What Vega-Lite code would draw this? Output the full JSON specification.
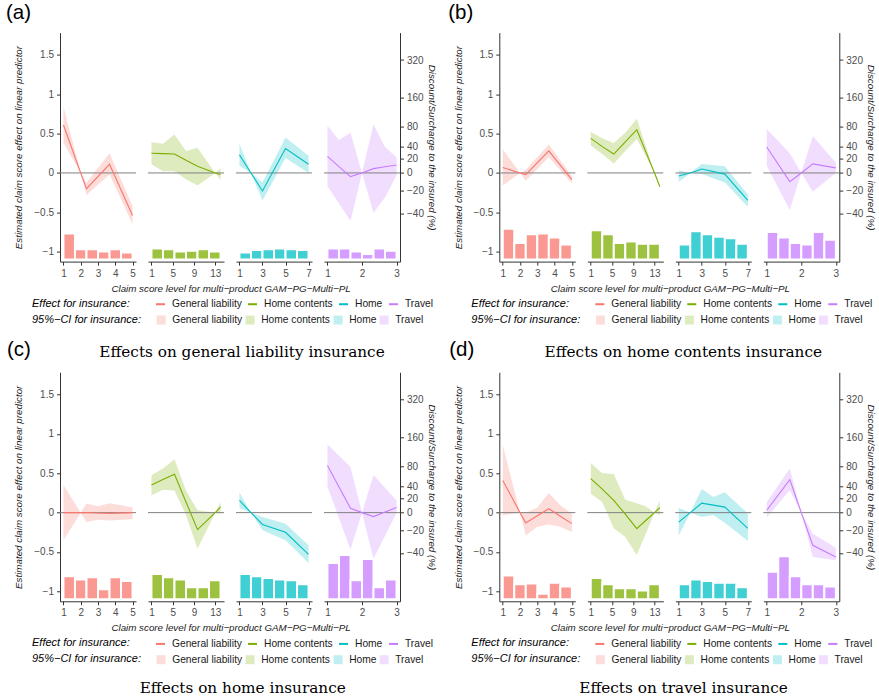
{
"$schema":"https://vega.github.io/schema/vega-lite/v6.json",
"background":"white",
"padding":{"left":6,"top":2.6,"right":0,"bottom":0},
"data":{"name":"d"},
"datasets":{"d":[
{"p":"a","g":"General liability","k":"curve","x":1,"est":0.61,"lo":0.38,"hi":0.84},
{"p":"a","g":"General liability","k":"curve","x":2,"est":0,"lo":0,"hi":0},
{"p":"a","g":"General liability","k":"curve","x":2.333,"est":-0.2,"lo":-0.28,"hi":-0.12},
{"p":"a","g":"General liability","k":"curve","x":3.667,"est":0.11,"lo":-0.02,"hi":0.25},
{"p":"a","g":"General liability","k":"curve","x":5,"est":-0.54,"lo":-0.65,"hi":-0.42},
{"p":"a","g":"Home contents","k":"curve","x":1,"est":0.25,"lo":0.11,"hi":0.39},
{"p":"a","g":"Home contents","k":"curve","x":3.167,"est":0.245,"lo":0.02,"hi":0.37},
{"p":"a","g":"Home contents","k":"curve","x":5.333,"est":0.24,"lo":0.02,"hi":0.49},
{"p":"a","g":"Home contents","k":"curve","x":7.5,"est":0.16,"lo":-0.08,"hi":0.28},
{"p":"a","g":"Home contents","k":"curve","x":9.667,"est":0.085,"lo":-0.16,"hi":0.32},
{"p":"a","g":"Home contents","k":"curve","x":13,"est":0,"lo":0,"hi":0},
{"p":"a","g":"Home contents","k":"curve","x":14,"est":-0.02,"lo":-0.09,"hi":0.06},
{"p":"a","g":"Home","k":"curve","x":1,"est":0.23,"lo":0.09,"hi":0.37},
{"p":"a","g":"Home","k":"curve","x":2,"est":0,"lo":0,"hi":0},
{"p":"a","g":"Home","k":"curve","x":3,"est":-0.23,"lo":-0.35,"hi":-0.12},
{"p":"a","g":"Home","k":"curve","x":5,"est":0.31,"lo":0.19,"hi":0.45},
{"p":"a","g":"Home","k":"curve","x":7,"est":0.11,"lo":0,"hi":0.22},
{"p":"a","g":"Travel","k":"curve","x":1,"est":0.21,"lo":-0.17,"hi":0.6},
{"p":"a","g":"Travel","k":"curve","x":1.333,"est":0.08,"lo":-0.39,"hi":0.42},
{"p":"a","g":"Travel","k":"curve","x":1.667,"est":-0.047,"lo":-0.61,"hi":0.51},
{"p":"a","g":"Travel","k":"curve","x":2,"est":0,"lo":0,"hi":0},
{"p":"a","g":"Travel","k":"curve","x":2.333,"est":0.055,"lo":-0.51,"hi":0.62},
{"p":"a","g":"Travel","k":"curve","x":2.667,"est":0.078,"lo":-0.31,"hi":0.33},
{"p":"a","g":"Travel","k":"curve","x":3,"est":0.1,"lo":-0.03,"hi":0.2},
{"p":"b","g":"General liability","k":"curve","x":1,"est":0.07,"lo":-0.16,"hi":0.3},
{"p":"b","g":"General liability","k":"curve","x":2,"est":0,"lo":0,"hi":0},
{"p":"b","g":"General liability","k":"curve","x":2.333,"est":-0.02,"lo":-0.1,"hi":0.04},
{"p":"b","g":"General liability","k":"curve","x":3.667,"est":0.28,"lo":0.2,"hi":0.36},
{"p":"b","g":"General liability","k":"curve","x":5,"est":-0.085,"lo":-0.13,"hi":-0.04},
{"p":"b","g":"Home contents","k":"curve","x":1,"est":0.44,"lo":0.35,"hi":0.52},
{"p":"b","g":"Home contents","k":"curve","x":3.167,"est":0.335,"lo":0.24,"hi":0.44},
{"p":"b","g":"Home contents","k":"curve","x":5.333,"est":0.24,"lo":0.12,"hi":0.38},
{"p":"b","g":"Home contents","k":"curve","x":7.5,"est":0.395,"lo":0.28,"hi":0.51},
{"p":"b","g":"Home contents","k":"curve","x":9.667,"est":0.55,"lo":0.43,"hi":0.69},
{"p":"b","g":"Home contents","k":"curve","x":13,"est":0,"lo":0,"hi":0},
{"p":"b","g":"Home contents","k":"curve","x":14,"est":-0.174,"lo":-0.2,"hi":-0.15},
{"p":"b","g":"Home","k":"curve","x":1,"est":-0.04,"lo":-0.115,"hi":0.035},
{"p":"b","g":"Home","k":"curve","x":2,"est":0,"lo":0,"hi":0},
{"p":"b","g":"Home","k":"curve","x":3,"est":0.05,"lo":-0.015,"hi":0.115},
{"p":"b","g":"Home","k":"curve","x":5,"est":-0.015,"lo":-0.12,"hi":0.085},
{"p":"b","g":"Home","k":"curve","x":7,"est":-0.35,"lo":-0.43,"hi":-0.275},
{"p":"b","g":"Travel","k":"curve","x":1,"est":0.33,"lo":0.09,"hi":0.56},
{"p":"b","g":"Travel","k":"curve","x":1.667,"est":-0.11,"lo":-0.47,"hi":0.25},
{"p":"b","g":"Travel","k":"curve","x":2,"est":0,"lo":0,"hi":0},
{"p":"b","g":"Travel","k":"curve","x":2.333,"est":0.115,"lo":-0.24,"hi":0.47},
{"p":"b","g":"Travel","k":"curve","x":3,"est":0.064,"lo":0,"hi":0.13},
{"p":"c","g":"General liability","k":"curve","x":1,"est":0,"lo":-0.35,"hi":0.35},
{"p":"c","g":"General liability","k":"curve","x":2,"est":0,"lo":0,"hi":0},
{"p":"c","g":"General liability","k":"curve","x":2.333,"est":0,"lo":-0.12,"hi":0.115},
{"p":"c","g":"General liability","k":"curve","x":3,"est":-0.005,"lo":-0.09,"hi":0.08},
{"p":"c","g":"General liability","k":"curve","x":3.667,"est":-0.01,"lo":-0.1,"hi":0.12},
{"p":"c","g":"General liability","k":"curve","x":5,"est":0,"lo":-0.085,"hi":0.07},
{"p":"c","g":"Home contents","k":"curve","x":1,"est":0.35,"lo":0.22,"hi":0.475},
{"p":"c","g":"Home contents","k":"curve","x":3.167,"est":0.42,"lo":0.29,"hi":0.56},
{"p":"c","g":"Home contents","k":"curve","x":5.333,"est":0.487,"lo":0.28,"hi":0.68},
{"p":"c","g":"Home contents","k":"curve","x":7.5,"est":0.135,"lo":-0.03,"hi":0.28},
{"p":"c","g":"Home contents","k":"curve","x":9.667,"est":-0.216,"lo":-0.46,"hi":0.03},
{"p":"c","g":"Home contents","k":"curve","x":13,"est":0,"lo":0,"hi":0},
{"p":"c","g":"Home contents","k":"curve","x":14,"est":0.072,"lo":-0.013,"hi":0.135},
{"p":"c","g":"Home","k":"curve","x":1,"est":0.155,"lo":0.055,"hi":0.255},
{"p":"c","g":"Home","k":"curve","x":2,"est":0,"lo":0,"hi":0},
{"p":"c","g":"Home","k":"curve","x":3,"est":-0.15,"lo":-0.225,"hi":-0.055},
{"p":"c","g":"Home","k":"curve","x":5,"est":-0.25,"lo":-0.35,"hi":-0.14},
{"p":"c","g":"Home","k":"curve","x":7,"est":-0.53,"lo":-0.64,"hi":-0.415},
{"p":"c","g":"Travel","k":"curve","x":1,"est":0.6,"lo":0.33,"hi":0.87},
{"p":"c","g":"Travel","k":"curve","x":1.667,"est":0.055,"lo":-0.47,"hi":0.58},
{"p":"c","g":"Travel","k":"curve","x":2,"est":0,"lo":0,"hi":0},
{"p":"c","g":"Travel","k":"curve","x":2.333,"est":-0.05,"lo":-0.585,"hi":0.48},
{"p":"c","g":"Travel","k":"curve","x":3,"est":0.065,"lo":-0.005,"hi":0.155},
{"p":"d","g":"General liability","k":"curve","x":1,"est":0.41,"lo":-0.035,"hi":0.856},
{"p":"d","g":"General liability","k":"curve","x":2,"est":0,"lo":0,"hi":0},
{"p":"d","g":"General liability","k":"curve","x":2.333,"est":-0.13,"lo":-0.29,"hi":0},
{"p":"d","g":"General liability","k":"curve","x":3,"est":-0.04,"lo":-0.18,"hi":0.064},
{"p":"d","g":"General liability","k":"curve","x":3.667,"est":0.05,"lo":-0.15,"hi":0.25},
{"p":"d","g":"General liability","k":"curve","x":4.333,"est":-0.045,"lo":-0.18,"hi":0.093},
{"p":"d","g":"General liability","k":"curve","x":5,"est":-0.14,"lo":-0.245,"hi":-0.013},
{"p":"d","g":"Home contents","k":"curve","x":1,"est":0.432,"lo":0.24,"hi":0.63},
{"p":"d","g":"Home contents","k":"curve","x":3.167,"est":0.3,"lo":0.135,"hi":0.5},
{"p":"d","g":"Home contents","k":"curve","x":5.333,"est":0.157,"lo":-0.2,"hi":0.49},
{"p":"d","g":"Home contents","k":"curve","x":7.5,"est":-0.02,"lo":-0.31,"hi":0.165},
{"p":"d","g":"Home contents","k":"curve","x":9.667,"est":-0.203,"lo":-0.54,"hi":0.12},
{"p":"d","g":"Home contents","k":"curve","x":11.333,"est":-0.1,"lo":-0.27,"hi":0.08},
{"p":"d","g":"Home contents","k":"curve","x":13,"est":0,"lo":0,"hi":0},
{"p":"d","g":"Home contents","k":"curve","x":14,"est":0.064,"lo":-0.034,"hi":0.157},
{"p":"d","g":"Home","k":"curve","x":1,"est":-0.12,"lo":-0.29,"hi":0.06},
{"p":"d","g":"Home","k":"curve","x":2,"est":0,"lo":0,"hi":0},
{"p":"d","g":"Home","k":"curve","x":3,"est":0.12,"lo":-0.055,"hi":0.3},
{"p":"d","g":"Home","k":"curve","x":4,"est":0.095,"lo":-0.03,"hi":0.2},
{"p":"d","g":"Home","k":"curve","x":5,"est":0.07,"lo":-0.13,"hi":0.26},
{"p":"d","g":"Home","k":"curve","x":7,"est":-0.2,"lo":-0.36,"hi":-0.01},
{"p":"d","g":"Travel","k":"curve","x":1,"est":0.03,"lo":-0.063,"hi":0.135},
{"p":"d","g":"Travel","k":"curve","x":1.667,"est":0.42,"lo":0.284,"hi":0.56},
{"p":"d","g":"Travel","k":"curve","x":2,"est":0,"lo":0,"hi":0},
{"p":"d","g":"Travel","k":"curve","x":2.333,"est":-0.415,"lo":-0.564,"hi":-0.267},
{"p":"d","g":"Travel","k":"curve","x":3,"est":-0.564,"lo":-0.606,"hi":-0.445},
{"p":"a","g":"General liability","k":"bar","b0":1,"b1":1.667,"top":-0.77},
{"p":"a","g":"General liability","k":"bar","b0":1.667,"b1":2.333,"top":-0.97},
{"p":"a","g":"General liability","k":"bar","b0":2.333,"b1":3,"top":-0.97},
{"p":"a","g":"General liability","k":"bar","b0":3,"b1":3.667,"top":-1.0},
{"p":"a","g":"General liability","k":"bar","b0":3.667,"b1":4.333,"top":-0.97},
{"p":"a","g":"General liability","k":"bar","b0":4.333,"b1":5,"top":-1.01},
{"p":"a","g":"Home contents","k":"bar","b0":1,"b1":3.167,"top":-0.96},
{"p":"a","g":"Home contents","k":"bar","b0":3.167,"b1":5.333,"top":-0.97},
{"p":"a","g":"Home contents","k":"bar","b0":5.333,"b1":7.5,"top":-1.0},
{"p":"a","g":"Home contents","k":"bar","b0":7.5,"b1":9.667,"top":-0.99},
{"p":"a","g":"Home contents","k":"bar","b0":9.667,"b1":11.833,"top":-0.97},
{"p":"a","g":"Home contents","k":"bar","b0":11.833,"b1":14,"top":-1.0},
{"p":"a","g":"Home","k":"bar","b0":1,"b1":2,"top":-1.01},
{"p":"a","g":"Home","k":"bar","b0":2,"b1":3,"top":-0.98},
{"p":"a","g":"Home","k":"bar","b0":3,"b1":4,"top":-0.97},
{"p":"a","g":"Home","k":"bar","b0":4,"b1":5,"top":-0.96},
{"p":"a","g":"Home","k":"bar","b0":5,"b1":6,"top":-0.97},
{"p":"a","g":"Home","k":"bar","b0":6,"b1":7,"top":-0.98},
{"p":"a","g":"Travel","k":"bar","b0":1,"b1":1.333,"top":-0.96},
{"p":"a","g":"Travel","k":"bar","b0":1.333,"b1":1.667,"top":-0.96},
{"p":"a","g":"Travel","k":"bar","b0":1.667,"b1":2,"top":-1.0},
{"p":"a","g":"Travel","k":"bar","b0":2,"b1":2.333,"top":-1.03},
{"p":"a","g":"Travel","k":"bar","b0":2.333,"b1":2.667,"top":-0.96},
{"p":"a","g":"Travel","k":"bar","b0":2.667,"b1":3,"top":-0.99},
{"p":"b","g":"General liability","k":"bar","b0":1,"b1":1.667,"top":-0.71},
{"p":"b","g":"General liability","k":"bar","b0":1.667,"b1":2.333,"top":-0.89},
{"p":"b","g":"General liability","k":"bar","b0":2.333,"b1":3,"top":-0.78},
{"p":"b","g":"General liability","k":"bar","b0":3,"b1":3.667,"top":-0.77},
{"p":"b","g":"General liability","k":"bar","b0":3.667,"b1":4.333,"top":-0.82},
{"p":"b","g":"General liability","k":"bar","b0":4.333,"b1":5,"top":-0.91},
{"p":"b","g":"Home contents","k":"bar","b0":1,"b1":3.167,"top":-0.73},
{"p":"b","g":"Home contents","k":"bar","b0":3.167,"b1":5.333,"top":-0.78},
{"p":"b","g":"Home contents","k":"bar","b0":5.333,"b1":7.5,"top":-0.89},
{"p":"b","g":"Home contents","k":"bar","b0":7.5,"b1":9.667,"top":-0.87},
{"p":"b","g":"Home contents","k":"bar","b0":9.667,"b1":11.833,"top":-0.9},
{"p":"b","g":"Home contents","k":"bar","b0":11.833,"b1":14,"top":-0.9},
{"p":"b","g":"Home","k":"bar","b0":1,"b1":2,"top":-0.91},
{"p":"b","g":"Home","k":"bar","b0":2,"b1":3,"top":-0.74},
{"p":"b","g":"Home","k":"bar","b0":3,"b1":4,"top":-0.78},
{"p":"b","g":"Home","k":"bar","b0":4,"b1":5,"top":-0.81},
{"p":"b","g":"Home","k":"bar","b0":5,"b1":6,"top":-0.83},
{"p":"b","g":"Home","k":"bar","b0":6,"b1":7,"top":-0.9},
{"p":"b","g":"Travel","k":"bar","b0":1,"b1":1.333,"top":-0.75},
{"p":"b","g":"Travel","k":"bar","b0":1.333,"b1":1.667,"top":-0.82},
{"p":"b","g":"Travel","k":"bar","b0":1.667,"b1":2,"top":-0.89},
{"p":"b","g":"Travel","k":"bar","b0":2,"b1":2.333,"top":-0.91},
{"p":"b","g":"Travel","k":"bar","b0":2.333,"b1":2.667,"top":-0.75},
{"p":"b","g":"Travel","k":"bar","b0":2.667,"b1":3,"top":-0.85},
{"p":"c","g":"General liability","k":"bar","b0":1,"b1":1.667,"top":-0.81},
{"p":"c","g":"General liability","k":"bar","b0":1.667,"b1":2.333,"top":-0.85},
{"p":"c","g":"General liability","k":"bar","b0":2.333,"b1":3,"top":-0.82},
{"p":"c","g":"General liability","k":"bar","b0":3,"b1":3.667,"top":-0.975},
{"p":"c","g":"General liability","k":"bar","b0":3.667,"b1":4.333,"top":-0.82},
{"p":"c","g":"General liability","k":"bar","b0":4.333,"b1":5,"top":-0.87},
{"p":"c","g":"Home contents","k":"bar","b0":1,"b1":3.167,"top":-0.78},
{"p":"c","g":"Home contents","k":"bar","b0":3.167,"b1":5.333,"top":-0.82},
{"p":"c","g":"Home contents","k":"bar","b0":5.333,"b1":7.5,"top":-0.85},
{"p":"c","g":"Home contents","k":"bar","b0":7.5,"b1":9.667,"top":-0.95},
{"p":"c","g":"Home contents","k":"bar","b0":9.667,"b1":11.833,"top":-0.95},
{"p":"c","g":"Home contents","k":"bar","b0":11.833,"b1":14,"top":-0.86},
{"p":"c","g":"Home","k":"bar","b0":1,"b1":2,"top":-0.78},
{"p":"c","g":"Home","k":"bar","b0":2,"b1":3,"top":-0.81},
{"p":"c","g":"Home","k":"bar","b0":3,"b1":4,"top":-0.83},
{"p":"c","g":"Home","k":"bar","b0":4,"b1":5,"top":-0.85},
{"p":"c","g":"Home","k":"bar","b0":5,"b1":6,"top":-0.86},
{"p":"c","g":"Home","k":"bar","b0":6,"b1":7,"top":-0.91},
{"p":"c","g":"Travel","k":"bar","b0":1,"b1":1.333,"top":-0.64},
{"p":"c","g":"Travel","k":"bar","b0":1.333,"b1":1.667,"top":-0.54},
{"p":"c","g":"Travel","k":"bar","b0":1.667,"b1":2,"top":-0.86},
{"p":"c","g":"Travel","k":"bar","b0":2,"b1":2.333,"top":-0.59},
{"p":"c","g":"Travel","k":"bar","b0":2.333,"b1":2.667,"top":-0.95},
{"p":"c","g":"Travel","k":"bar","b0":2.667,"b1":3,"top":-0.85},
{"p":"d","g":"General liability","k":"bar","b0":1,"b1":1.667,"top":-0.8},
{"p":"d","g":"General liability","k":"bar","b0":1.667,"b1":2.333,"top":-0.91},
{"p":"d","g":"General liability","k":"bar","b0":2.333,"b1":3,"top":-0.9},
{"p":"d","g":"General liability","k":"bar","b0":3,"b1":3.667,"top":-1.03},
{"p":"d","g":"General liability","k":"bar","b0":3.667,"b1":4.333,"top":-0.89},
{"p":"d","g":"General liability","k":"bar","b0":4.333,"b1":5,"top":-0.94},
{"p":"d","g":"Home contents","k":"bar","b0":1,"b1":3.167,"top":-0.83},
{"p":"d","g":"Home contents","k":"bar","b0":3.167,"b1":5.333,"top":-0.91},
{"p":"d","g":"Home contents","k":"bar","b0":5.333,"b1":7.5,"top":-0.96},
{"p":"d","g":"Home contents","k":"bar","b0":7.5,"b1":9.667,"top":-0.96},
{"p":"d","g":"Home contents","k":"bar","b0":9.667,"b1":11.833,"top":-0.99},
{"p":"d","g":"Home contents","k":"bar","b0":11.833,"b1":14,"top":-0.91},
{"p":"d","g":"Home","k":"bar","b0":1,"b1":2,"top":-0.91},
{"p":"d","g":"Home","k":"bar","b0":2,"b1":3,"top":-0.85},
{"p":"d","g":"Home","k":"bar","b0":3,"b1":4,"top":-0.87},
{"p":"d","g":"Home","k":"bar","b0":4,"b1":5,"top":-0.89},
{"p":"d","g":"Home","k":"bar","b0":5,"b1":6,"top":-0.89},
{"p":"d","g":"Home","k":"bar","b0":6,"b1":7,"top":-0.95},
{"p":"d","g":"Travel","k":"bar","b0":1,"b1":1.333,"top":-0.75},
{"p":"d","g":"Travel","k":"bar","b0":1.333,"b1":1.667,"top":-0.555},
{"p":"d","g":"Travel","k":"bar","b0":1.667,"b1":2,"top":-0.81},
{"p":"d","g":"Travel","k":"bar","b0":2,"b1":2.333,"top":-0.91},
{"p":"d","g":"Travel","k":"bar","b0":2.333,"b1":2.667,"top":-0.91},
{"p":"d","g":"Travel","k":"bar","b0":2.667,"b1":3,"top":-0.94}
]},
"concat":[
{"hconcat":[
{"width":76,"height":229,"transform":[{"filter":"datum.p=='a'&&datum.g=='General liability'"}],
"title":{"text":"(a)","anchor":"start","frame":"group","dx":-54,"fontSize":20.5,"font":"Liberation Sans","fontWeight":"normal","offset":9},
"layer":[
{"transform":[{"filter":"datum.k=='bar'"}],"mark":{"type":"rect","fillOpacity":0.75,"stroke":"white","strokeWidth":2},"encoding":{"x":{"field":"b0","type":"quantitative","scale":{"domain":[0.8,5.2],"nice":false,"zero":false},"axis":{"values":[1,2,3,4,5],"format":"d","tickCount":10,"title":"Claim score level for multi−product GAM−PG−Multi−PL","titleX":170.5,"titlePadding":5}},"x2":{"field":"b1"},"y":{"field":"top","type":"quantitative","scale":{"domain":[-1.127,1.784],"nice":false,"zero":false},"axis":{"orient":"left","values":[-1,-0.5,0,0.5,1,1.5],"format":"~g","tickCount":10,"title":"Estimated claim score effect on linear predictor","titlePadding":10}},"y2":{"datum":-1.1},"fill":{"field":"g","type":"nominal","scale":{"domain":["General liability","Home contents","Home","Travel","none"],"range":["#F8766D","#7CAE00","#00BFC4","#C77CFF","#ffffff"]},"legend":{"title":"95%−CI for insurance:","values":["General liability","Home contents","Home","Travel"],"orient":"none","legendX":-28,"legendY":282,"direction":"horizontal","titleOrient":"left","symbolType":"square","symbolOpacity":0.25,"symbolStrokeWidth":0,"titlePadding":14}}}},
{"transform":[{"filter":"datum.k=='curve'"}],"mark":{"type":"area","opacity":0.25},"encoding":{"x":{"field":"x","type":"quantitative","scale":{"domain":[0.8,5.2],"nice":false,"zero":false}},"y":{"field":"lo","type":"quantitative","scale":{"domain":[-1.127,1.784],"nice":false,"zero":false}},"y2":{"field":"hi"},"fill":{"field":"g","type":"nominal","scale":{"domain":["General liability","Home contents","Home","Travel","none"],"range":["#F8766D","#7CAE00","#00BFC4","#C77CFF","#ffffff"]},"legend":{"title":"95%−CI for insurance:","values":["General liability","Home contents","Home","Travel"],"orient":"none","legendX":-28,"legendY":282,"direction":"horizontal","titleOrient":"left","symbolType":"square","symbolOpacity":0.25,"symbolStrokeWidth":0,"titlePadding":14}}}},
{"data":{"values":[{}]},"mark":{"type":"rule","color":"#7f7f7f","strokeWidth":1},"encoding":{"y":{"datum":0,"type":"quantitative","scale":{"domain":[-1.127,1.784],"nice":false,"zero":false}}}},
{"transform":[{"filter":"datum.k=='curve'"}],"mark":{"type":"line","strokeWidth":1.1},"encoding":{"x":{"field":"x","type":"quantitative","scale":{"domain":[0.8,5.2],"nice":false,"zero":false}},"y":{"field":"est","type":"quantitative","scale":{"domain":[-1.127,1.784],"nice":false,"zero":false}},"stroke":{"field":"g","type":"nominal","scale":{"domain":["General liability","Home contents","Home","Travel"],"range":["#F8766D","#7CAE00","#00BFC4","#C77CFF"]},"legend":{"title":"Effect for insurance:","orient":"none","legendX":-28,"legendY":266,"direction":"horizontal","titleOrient":"left","symbolType":"stroke","symbolStrokeWidth":2,"symbolOpacity":1,"titlePadding":25}}}}
]},
{"width":76,"height":229,"transform":[{"filter":"datum.p=='a'&&datum.g=='Home contents'"}],
"layer":[
{"transform":[{"filter":"datum.k=='bar'"}],"mark":{"type":"rect","fillOpacity":0.75,"stroke":"white","strokeWidth":2},"encoding":{"x":{"field":"b0","type":"quantitative","scale":{"domain":[0.35,14.65],"nice":false,"zero":false},"axis":{"values":[1,5,9,13],"format":"d","tickCount":10,"title":null}},"x2":{"field":"b1"},"y":{"field":"top","type":"quantitative","scale":{"domain":[-1.127,1.784],"nice":false,"zero":false},"axis":null},"y2":{"datum":-1.1},"fill":{"field":"g","type":"nominal","scale":{"domain":["General liability","Home contents","Home","Travel","none"],"range":["#F8766D","#7CAE00","#00BFC4","#C77CFF","#ffffff"]},"legend":{"title":"95%−CI for insurance:","values":["General liability","Home contents","Home","Travel"],"orient":"none","legendX":-28,"legendY":282,"direction":"horizontal","titleOrient":"left","symbolType":"square","symbolOpacity":0.25,"symbolStrokeWidth":0,"titlePadding":14}}}},
{"transform":[{"filter":"datum.k=='curve'"}],"mark":{"type":"area","opacity":0.25},"encoding":{"x":{"field":"x","type":"quantitative","scale":{"domain":[0.35,14.65],"nice":false,"zero":false}},"y":{"field":"lo","type":"quantitative","scale":{"domain":[-1.127,1.784],"nice":false,"zero":false},"axis":null},"y2":{"field":"hi"},"fill":{"field":"g","type":"nominal","scale":{"domain":["General liability","Home contents","Home","Travel","none"],"range":["#F8766D","#7CAE00","#00BFC4","#C77CFF","#ffffff"]},"legend":{"title":"95%−CI for insurance:","values":["General liability","Home contents","Home","Travel"],"orient":"none","legendX":-28,"legendY":282,"direction":"horizontal","titleOrient":"left","symbolType":"square","symbolOpacity":0.25,"symbolStrokeWidth":0,"titlePadding":14}}}},
{"data":{"values":[{}]},"mark":{"type":"rule","color":"#7f7f7f","strokeWidth":1},"encoding":{"y":{"datum":0,"type":"quantitative","scale":{"domain":[-1.127,1.784],"nice":false,"zero":false},"axis":null}}},
{"transform":[{"filter":"datum.k=='curve'"}],"mark":{"type":"line","strokeWidth":1.1},"encoding":{"x":{"field":"x","type":"quantitative","scale":{"domain":[0.35,14.65],"nice":false,"zero":false}},"y":{"field":"est","type":"quantitative","scale":{"domain":[-1.127,1.784],"nice":false,"zero":false},"axis":null},"stroke":{"field":"g","type":"nominal","scale":{"domain":["General liability","Home contents","Home","Travel"],"range":["#F8766D","#7CAE00","#00BFC4","#C77CFF"]},"legend":{"title":"Effect for insurance:","orient":"none","legendX":-28,"legendY":266,"direction":"horizontal","titleOrient":"left","symbolType":"stroke","symbolStrokeWidth":2,"symbolOpacity":1,"titlePadding":25}}}}
]},
{"width":76,"height":229,"transform":[{"filter":"datum.p=='a'&&datum.g=='Home'"}],
"layer":[
{"transform":[{"filter":"datum.k=='bar'"}],"mark":{"type":"rect","fillOpacity":0.75,"stroke":"white","strokeWidth":2},"encoding":{"x":{"field":"b0","type":"quantitative","scale":{"domain":[0.7,7.3],"nice":false,"zero":false},"axis":{"values":[1,3,5,7],"format":"d","tickCount":10,"title":null}},"x2":{"field":"b1"},"y":{"field":"top","type":"quantitative","scale":{"domain":[-1.127,1.784],"nice":false,"zero":false},"axis":null},"y2":{"datum":-1.1},"fill":{"field":"g","type":"nominal","scale":{"domain":["General liability","Home contents","Home","Travel","none"],"range":["#F8766D","#7CAE00","#00BFC4","#C77CFF","#ffffff"]},"legend":{"title":"95%−CI for insurance:","values":["General liability","Home contents","Home","Travel"],"orient":"none","legendX":-28,"legendY":282,"direction":"horizontal","titleOrient":"left","symbolType":"square","symbolOpacity":0.25,"symbolStrokeWidth":0,"titlePadding":14}}}},
{"transform":[{"filter":"datum.k=='curve'"}],"mark":{"type":"area","opacity":0.25},"encoding":{"x":{"field":"x","type":"quantitative","scale":{"domain":[0.7,7.3],"nice":false,"zero":false}},"y":{"field":"lo","type":"quantitative","scale":{"domain":[-1.127,1.784],"nice":false,"zero":false},"axis":null},"y2":{"field":"hi"},"fill":{"field":"g","type":"nominal","scale":{"domain":["General liability","Home contents","Home","Travel","none"],"range":["#F8766D","#7CAE00","#00BFC4","#C77CFF","#ffffff"]},"legend":{"title":"95%−CI for insurance:","values":["General liability","Home contents","Home","Travel"],"orient":"none","legendX":-28,"legendY":282,"direction":"horizontal","titleOrient":"left","symbolType":"square","symbolOpacity":0.25,"symbolStrokeWidth":0,"titlePadding":14}}}},
{"data":{"values":[{}]},"mark":{"type":"rule","color":"#7f7f7f","strokeWidth":1},"encoding":{"y":{"datum":0,"type":"quantitative","scale":{"domain":[-1.127,1.784],"nice":false,"zero":false},"axis":null}}},
{"transform":[{"filter":"datum.k=='curve'"}],"mark":{"type":"line","strokeWidth":1.1},"encoding":{"x":{"field":"x","type":"quantitative","scale":{"domain":[0.7,7.3],"nice":false,"zero":false}},"y":{"field":"est","type":"quantitative","scale":{"domain":[-1.127,1.784],"nice":false,"zero":false},"axis":null},"stroke":{"field":"g","type":"nominal","scale":{"domain":["General liability","Home contents","Home","Travel"],"range":["#F8766D","#7CAE00","#00BFC4","#C77CFF"]},"legend":{"title":"Effect for insurance:","orient":"none","legendX":-28,"legendY":266,"direction":"horizontal","titleOrient":"left","symbolType":"stroke","symbolStrokeWidth":2,"symbolOpacity":1,"titlePadding":25}}}}
]},
{"width":76,"height":229,"transform":[{"filter":"datum.p=='a'&&datum.g=='Travel'"}],
"layer":[
{"transform":[{"filter":"datum.k=='bar'"}],"mark":{"type":"rect","fillOpacity":0.75,"stroke":"white","strokeWidth":2},"encoding":{"x":{"field":"b0","type":"quantitative","scale":{"domain":[0.9,3.1],"nice":false,"zero":false},"axis":{"values":[1,2,3],"format":"d","tickCount":10,"title":null}},"x2":{"field":"b1"},"y":{"field":"top","type":"quantitative","scale":{"domain":[-1.127,1.784],"nice":false,"zero":false},"axis":{"orient":"right","values":[1.4351,0.9555,0.5878,0.3365,0.1823,0,-0.2231,-0.5108],"labelExpr":"format((exp(datum.value)-1)*100,'.0f')","tickCount":10,"title":"Discount/Surcharge to the insured (%)","titlePadding":3}},"y2":{"datum":-1.1},"fill":{"field":"g","type":"nominal","scale":{"domain":["General liability","Home contents","Home","Travel","none"],"range":["#F8766D","#7CAE00","#00BFC4","#C77CFF","#ffffff"]},"legend":{"title":"95%−CI for insurance:","values":["General liability","Home contents","Home","Travel"],"orient":"none","legendX":-28,"legendY":282,"direction":"horizontal","titleOrient":"left","symbolType":"square","symbolOpacity":0.25,"symbolStrokeWidth":0,"titlePadding":14}}}},
{"transform":[{"filter":"datum.k=='curve'"}],"mark":{"type":"area","opacity":0.25},"encoding":{"x":{"field":"x","type":"quantitative","scale":{"domain":[0.9,3.1],"nice":false,"zero":false}},"y":{"field":"lo","type":"quantitative","scale":{"domain":[-1.127,1.784],"nice":false,"zero":false}},"y2":{"field":"hi"},"fill":{"field":"g","type":"nominal","scale":{"domain":["General liability","Home contents","Home","Travel","none"],"range":["#F8766D","#7CAE00","#00BFC4","#C77CFF","#ffffff"]},"legend":{"title":"95%−CI for insurance:","values":["General liability","Home contents","Home","Travel"],"orient":"none","legendX":-28,"legendY":282,"direction":"horizontal","titleOrient":"left","symbolType":"square","symbolOpacity":0.25,"symbolStrokeWidth":0,"titlePadding":14}}}},
{"data":{"values":[{}]},"mark":{"type":"rule","color":"#7f7f7f","strokeWidth":1},"encoding":{"y":{"datum":0,"type":"quantitative","scale":{"domain":[-1.127,1.784],"nice":false,"zero":false}}}},
{"transform":[{"filter":"datum.k=='curve'"}],"mark":{"type":"line","strokeWidth":1.1},"encoding":{"x":{"field":"x","type":"quantitative","scale":{"domain":[0.9,3.1],"nice":false,"zero":false}},"y":{"field":"est","type":"quantitative","scale":{"domain":[-1.127,1.784],"nice":false,"zero":false}},"stroke":{"field":"g","type":"nominal","scale":{"domain":["General liability","Home contents","Home","Travel"],"range":["#F8766D","#7CAE00","#00BFC4","#C77CFF"]},"legend":{"title":"Effect for insurance:","orient":"none","legendX":-28,"legendY":266,"direction":"horizontal","titleOrient":"left","symbolType":"stroke","symbolStrokeWidth":2,"symbolOpacity":1,"titlePadding":25}}}}
]}
],"spacing":12,"bounds":"flush"},
{"hconcat":[
{"width":76,"height":229,"transform":[{"filter":"datum.p=='b'&&datum.g=='General liability'"}],
"title":{"text":"(b)","anchor":"start","frame":"group","dx":-51,"fontSize":20.5,"font":"Liberation Sans","fontWeight":"normal","offset":9},
"layer":[
{"transform":[{"filter":"datum.k=='bar'"}],"mark":{"type":"rect","fillOpacity":0.75,"stroke":"white","strokeWidth":2},"encoding":{"x":{"field":"b0","type":"quantitative","scale":{"domain":[0.8,5.2],"nice":false,"zero":false},"axis":{"values":[1,2,3,4,5],"format":"d","tickCount":10,"title":"Claim score level for multi−product GAM−PG−Multi−PL","titleX":170.5,"titlePadding":5}},"x2":{"field":"b1"},"y":{"field":"top","type":"quantitative","scale":{"domain":[-1.127,1.784],"nice":false,"zero":false},"axis":{"orient":"left","values":[-1,-0.5,0,0.5,1,1.5],"format":"~g","tickCount":10,"title":"Estimated claim score effect on linear predictor","titlePadding":10}},"y2":{"datum":-1.1},"fill":{"field":"g","type":"nominal","scale":{"domain":["General liability","Home contents","Home","Travel","none"],"range":["#F8766D","#7CAE00","#00BFC4","#C77CFF","#ffffff"]},"legend":{"title":"95%−CI for insurance:","values":["General liability","Home contents","Home","Travel"],"orient":"none","legendX":-28,"legendY":282,"direction":"horizontal","titleOrient":"left","symbolType":"square","symbolOpacity":0.25,"symbolStrokeWidth":0,"titlePadding":14}}}},
{"transform":[{"filter":"datum.k=='curve'"}],"mark":{"type":"area","opacity":0.25},"encoding":{"x":{"field":"x","type":"quantitative","scale":{"domain":[0.8,5.2],"nice":false,"zero":false}},"y":{"field":"lo","type":"quantitative","scale":{"domain":[-1.127,1.784],"nice":false,"zero":false}},"y2":{"field":"hi"},"fill":{"field":"g","type":"nominal","scale":{"domain":["General liability","Home contents","Home","Travel","none"],"range":["#F8766D","#7CAE00","#00BFC4","#C77CFF","#ffffff"]},"legend":{"title":"95%−CI for insurance:","values":["General liability","Home contents","Home","Travel"],"orient":"none","legendX":-28,"legendY":282,"direction":"horizontal","titleOrient":"left","symbolType":"square","symbolOpacity":0.25,"symbolStrokeWidth":0,"titlePadding":14}}}},
{"data":{"values":[{}]},"mark":{"type":"rule","color":"#7f7f7f","strokeWidth":1},"encoding":{"y":{"datum":0,"type":"quantitative","scale":{"domain":[-1.127,1.784],"nice":false,"zero":false}}}},
{"transform":[{"filter":"datum.k=='curve'"}],"mark":{"type":"line","strokeWidth":1.1},"encoding":{"x":{"field":"x","type":"quantitative","scale":{"domain":[0.8,5.2],"nice":false,"zero":false}},"y":{"field":"est","type":"quantitative","scale":{"domain":[-1.127,1.784],"nice":false,"zero":false}},"stroke":{"field":"g","type":"nominal","scale":{"domain":["General liability","Home contents","Home","Travel"],"range":["#F8766D","#7CAE00","#00BFC4","#C77CFF"]},"legend":{"title":"Effect for insurance:","orient":"none","legendX":-28,"legendY":266,"direction":"horizontal","titleOrient":"left","symbolType":"stroke","symbolStrokeWidth":2,"symbolOpacity":1,"titlePadding":25}}}}
]},
{"width":76,"height":229,"transform":[{"filter":"datum.p=='b'&&datum.g=='Home contents'"}],
"layer":[
{"transform":[{"filter":"datum.k=='bar'"}],"mark":{"type":"rect","fillOpacity":0.75,"stroke":"white","strokeWidth":2},"encoding":{"x":{"field":"b0","type":"quantitative","scale":{"domain":[0.35,14.65],"nice":false,"zero":false},"axis":{"values":[1,5,9,13],"format":"d","tickCount":10,"title":null}},"x2":{"field":"b1"},"y":{"field":"top","type":"quantitative","scale":{"domain":[-1.127,1.784],"nice":false,"zero":false},"axis":null},"y2":{"datum":-1.1},"fill":{"field":"g","type":"nominal","scale":{"domain":["General liability","Home contents","Home","Travel","none"],"range":["#F8766D","#7CAE00","#00BFC4","#C77CFF","#ffffff"]},"legend":{"title":"95%−CI for insurance:","values":["General liability","Home contents","Home","Travel"],"orient":"none","legendX":-28,"legendY":282,"direction":"horizontal","titleOrient":"left","symbolType":"square","symbolOpacity":0.25,"symbolStrokeWidth":0,"titlePadding":14}}}},
{"transform":[{"filter":"datum.k=='curve'"}],"mark":{"type":"area","opacity":0.25},"encoding":{"x":{"field":"x","type":"quantitative","scale":{"domain":[0.35,14.65],"nice":false,"zero":false}},"y":{"field":"lo","type":"quantitative","scale":{"domain":[-1.127,1.784],"nice":false,"zero":false},"axis":null},"y2":{"field":"hi"},"fill":{"field":"g","type":"nominal","scale":{"domain":["General liability","Home contents","Home","Travel","none"],"range":["#F8766D","#7CAE00","#00BFC4","#C77CFF","#ffffff"]},"legend":{"title":"95%−CI for insurance:","values":["General liability","Home contents","Home","Travel"],"orient":"none","legendX":-28,"legendY":282,"direction":"horizontal","titleOrient":"left","symbolType":"square","symbolOpacity":0.25,"symbolStrokeWidth":0,"titlePadding":14}}}},
{"data":{"values":[{}]},"mark":{"type":"rule","color":"#7f7f7f","strokeWidth":1},"encoding":{"y":{"datum":0,"type":"quantitative","scale":{"domain":[-1.127,1.784],"nice":false,"zero":false},"axis":null}}},
{"transform":[{"filter":"datum.k=='curve'"}],"mark":{"type":"line","strokeWidth":1.1},"encoding":{"x":{"field":"x","type":"quantitative","scale":{"domain":[0.35,14.65],"nice":false,"zero":false}},"y":{"field":"est","type":"quantitative","scale":{"domain":[-1.127,1.784],"nice":false,"zero":false},"axis":null},"stroke":{"field":"g","type":"nominal","scale":{"domain":["General liability","Home contents","Home","Travel"],"range":["#F8766D","#7CAE00","#00BFC4","#C77CFF"]},"legend":{"title":"Effect for insurance:","orient":"none","legendX":-28,"legendY":266,"direction":"horizontal","titleOrient":"left","symbolType":"stroke","symbolStrokeWidth":2,"symbolOpacity":1,"titlePadding":25}}}}
]},
{"width":76,"height":229,"transform":[{"filter":"datum.p=='b'&&datum.g=='Home'"}],
"layer":[
{"transform":[{"filter":"datum.k=='bar'"}],"mark":{"type":"rect","fillOpacity":0.75,"stroke":"white","strokeWidth":2},"encoding":{"x":{"field":"b0","type":"quantitative","scale":{"domain":[0.7,7.3],"nice":false,"zero":false},"axis":{"values":[1,3,5,7],"format":"d","tickCount":10,"title":null}},"x2":{"field":"b1"},"y":{"field":"top","type":"quantitative","scale":{"domain":[-1.127,1.784],"nice":false,"zero":false},"axis":null},"y2":{"datum":-1.1},"fill":{"field":"g","type":"nominal","scale":{"domain":["General liability","Home contents","Home","Travel","none"],"range":["#F8766D","#7CAE00","#00BFC4","#C77CFF","#ffffff"]},"legend":{"title":"95%−CI for insurance:","values":["General liability","Home contents","Home","Travel"],"orient":"none","legendX":-28,"legendY":282,"direction":"horizontal","titleOrient":"left","symbolType":"square","symbolOpacity":0.25,"symbolStrokeWidth":0,"titlePadding":14}}}},
{"transform":[{"filter":"datum.k=='curve'"}],"mark":{"type":"area","opacity":0.25},"encoding":{"x":{"field":"x","type":"quantitative","scale":{"domain":[0.7,7.3],"nice":false,"zero":false}},"y":{"field":"lo","type":"quantitative","scale":{"domain":[-1.127,1.784],"nice":false,"zero":false},"axis":null},"y2":{"field":"hi"},"fill":{"field":"g","type":"nominal","scale":{"domain":["General liability","Home contents","Home","Travel","none"],"range":["#F8766D","#7CAE00","#00BFC4","#C77CFF","#ffffff"]},"legend":{"title":"95%−CI for insurance:","values":["General liability","Home contents","Home","Travel"],"orient":"none","legendX":-28,"legendY":282,"direction":"horizontal","titleOrient":"left","symbolType":"square","symbolOpacity":0.25,"symbolStrokeWidth":0,"titlePadding":14}}}},
{"data":{"values":[{}]},"mark":{"type":"rule","color":"#7f7f7f","strokeWidth":1},"encoding":{"y":{"datum":0,"type":"quantitative","scale":{"domain":[-1.127,1.784],"nice":false,"zero":false},"axis":null}}},
{"transform":[{"filter":"datum.k=='curve'"}],"mark":{"type":"line","strokeWidth":1.1},"encoding":{"x":{"field":"x","type":"quantitative","scale":{"domain":[0.7,7.3],"nice":false,"zero":false}},"y":{"field":"est","type":"quantitative","scale":{"domain":[-1.127,1.784],"nice":false,"zero":false},"axis":null},"stroke":{"field":"g","type":"nominal","scale":{"domain":["General liability","Home contents","Home","Travel"],"range":["#F8766D","#7CAE00","#00BFC4","#C77CFF"]},"legend":{"title":"Effect for insurance:","orient":"none","legendX":-28,"legendY":266,"direction":"horizontal","titleOrient":"left","symbolType":"stroke","symbolStrokeWidth":2,"symbolOpacity":1,"titlePadding":25}}}}
]},
{"width":76,"height":229,"transform":[{"filter":"datum.p=='b'&&datum.g=='Travel'"}],
"layer":[
{"transform":[{"filter":"datum.k=='bar'"}],"mark":{"type":"rect","fillOpacity":0.75,"stroke":"white","strokeWidth":2},"encoding":{"x":{"field":"b0","type":"quantitative","scale":{"domain":[0.9,3.1],"nice":false,"zero":false},"axis":{"values":[1,2,3],"format":"d","tickCount":10,"title":null}},"x2":{"field":"b1"},"y":{"field":"top","type":"quantitative","scale":{"domain":[-1.127,1.784],"nice":false,"zero":false},"axis":{"orient":"right","values":[1.4351,0.9555,0.5878,0.3365,0.1823,0,-0.2231,-0.5108],"labelExpr":"format((exp(datum.value)-1)*100,'.0f')","tickCount":10,"title":"Discount/Surcharge to the insured (%)","titlePadding":3}},"y2":{"datum":-1.1},"fill":{"field":"g","type":"nominal","scale":{"domain":["General liability","Home contents","Home","Travel","none"],"range":["#F8766D","#7CAE00","#00BFC4","#C77CFF","#ffffff"]},"legend":{"title":"95%−CI for insurance:","values":["General liability","Home contents","Home","Travel"],"orient":"none","legendX":-28,"legendY":282,"direction":"horizontal","titleOrient":"left","symbolType":"square","symbolOpacity":0.25,"symbolStrokeWidth":0,"titlePadding":14}}}},
{"transform":[{"filter":"datum.k=='curve'"}],"mark":{"type":"area","opacity":0.25},"encoding":{"x":{"field":"x","type":"quantitative","scale":{"domain":[0.9,3.1],"nice":false,"zero":false}},"y":{"field":"lo","type":"quantitative","scale":{"domain":[-1.127,1.784],"nice":false,"zero":false}},"y2":{"field":"hi"},"fill":{"field":"g","type":"nominal","scale":{"domain":["General liability","Home contents","Home","Travel","none"],"range":["#F8766D","#7CAE00","#00BFC4","#C77CFF","#ffffff"]},"legend":{"title":"95%−CI for insurance:","values":["General liability","Home contents","Home","Travel"],"orient":"none","legendX":-28,"legendY":282,"direction":"horizontal","titleOrient":"left","symbolType":"square","symbolOpacity":0.25,"symbolStrokeWidth":0,"titlePadding":14}}}},
{"data":{"values":[{}]},"mark":{"type":"rule","color":"#7f7f7f","strokeWidth":1},"encoding":{"y":{"datum":0,"type":"quantitative","scale":{"domain":[-1.127,1.784],"nice":false,"zero":false}}}},
{"transform":[{"filter":"datum.k=='curve'"}],"mark":{"type":"line","strokeWidth":1.1},"encoding":{"x":{"field":"x","type":"quantitative","scale":{"domain":[0.9,3.1],"nice":false,"zero":false}},"y":{"field":"est","type":"quantitative","scale":{"domain":[-1.127,1.784],"nice":false,"zero":false}},"stroke":{"field":"g","type":"nominal","scale":{"domain":["General liability","Home contents","Home","Travel"],"range":["#F8766D","#7CAE00","#00BFC4","#C77CFF"]},"legend":{"title":"Effect for insurance:","orient":"none","legendX":-28,"legendY":266,"direction":"horizontal","titleOrient":"left","symbolType":"stroke","symbolStrokeWidth":2,"symbolOpacity":1,"titlePadding":25}}}}
]}
],"spacing":12,"bounds":"flush"},
{"hconcat":[
{"width":76,"height":229,"transform":[{"filter":"datum.p=='c'&&datum.g=='General liability'"}],
"title":{"text":"(c)","anchor":"start","frame":"group","dx":-53,"fontSize":20.5,"font":"Liberation Sans","fontWeight":"normal","offset":12},
"layer":[
{"transform":[{"filter":"datum.k=='bar'"}],"mark":{"type":"rect","fillOpacity":0.75,"stroke":"white","strokeWidth":2},"encoding":{"x":{"field":"b0","type":"quantitative","scale":{"domain":[0.8,5.2],"nice":false,"zero":false},"axis":{"values":[1,2,3,4,5],"format":"d","tickCount":10,"title":"Claim score level for multi−product GAM−PG−Multi−PL","titleX":170.5,"titlePadding":5}},"x2":{"field":"b1"},"y":{"field":"top","type":"quantitative","scale":{"domain":[-1.127,1.784],"nice":false,"zero":false},"axis":{"orient":"left","values":[-1,-0.5,0,0.5,1,1.5],"format":"~g","tickCount":10,"title":"Estimated claim score effect on linear predictor","titlePadding":10}},"y2":{"datum":-1.1},"fill":{"field":"g","type":"nominal","scale":{"domain":["General liability","Home contents","Home","Travel","none"],"range":["#F8766D","#7CAE00","#00BFC4","#C77CFF","#ffffff"]},"legend":{"title":"95%−CI for insurance:","values":["General liability","Home contents","Home","Travel"],"orient":"none","legendX":-28,"legendY":282,"direction":"horizontal","titleOrient":"left","symbolType":"square","symbolOpacity":0.25,"symbolStrokeWidth":0,"titlePadding":14}}}},
{"transform":[{"filter":"datum.k=='curve'"}],"mark":{"type":"area","opacity":0.25},"encoding":{"x":{"field":"x","type":"quantitative","scale":{"domain":[0.8,5.2],"nice":false,"zero":false}},"y":{"field":"lo","type":"quantitative","scale":{"domain":[-1.127,1.784],"nice":false,"zero":false}},"y2":{"field":"hi"},"fill":{"field":"g","type":"nominal","scale":{"domain":["General liability","Home contents","Home","Travel","none"],"range":["#F8766D","#7CAE00","#00BFC4","#C77CFF","#ffffff"]},"legend":{"title":"95%−CI for insurance:","values":["General liability","Home contents","Home","Travel"],"orient":"none","legendX":-28,"legendY":282,"direction":"horizontal","titleOrient":"left","symbolType":"square","symbolOpacity":0.25,"symbolStrokeWidth":0,"titlePadding":14}}}},
{"data":{"values":[{}]},"mark":{"type":"rule","color":"#7f7f7f","strokeWidth":1},"encoding":{"y":{"datum":0,"type":"quantitative","scale":{"domain":[-1.127,1.784],"nice":false,"zero":false}}}},
{"transform":[{"filter":"datum.k=='curve'"}],"mark":{"type":"line","strokeWidth":1.1},"encoding":{"x":{"field":"x","type":"quantitative","scale":{"domain":[0.8,5.2],"nice":false,"zero":false}},"y":{"field":"est","type":"quantitative","scale":{"domain":[-1.127,1.784],"nice":false,"zero":false}},"stroke":{"field":"g","type":"nominal","scale":{"domain":["General liability","Home contents","Home","Travel"],"range":["#F8766D","#7CAE00","#00BFC4","#C77CFF"]},"legend":{"title":"Effect for insurance:","orient":"none","legendX":-28,"legendY":266,"direction":"horizontal","titleOrient":"left","symbolType":"stroke","symbolStrokeWidth":2,"symbolOpacity":1,"titlePadding":25}}}}
]},
{"width":76,"height":229,"transform":[{"filter":"datum.p=='c'&&datum.g=='Home contents'"}],
"title":{"text":"Effects on general liability insurance","anchor":"middle","frame":"group","dx":56,"fontSize":15.3,"font":"DejaVu Serif","fontWeight":"normal","offset":12},
"layer":[
{"transform":[{"filter":"datum.k=='bar'"}],"mark":{"type":"rect","fillOpacity":0.75,"stroke":"white","strokeWidth":2},"encoding":{"x":{"field":"b0","type":"quantitative","scale":{"domain":[0.35,14.65],"nice":false,"zero":false},"axis":{"values":[1,5,9,13],"format":"d","tickCount":10,"title":null}},"x2":{"field":"b1"},"y":{"field":"top","type":"quantitative","scale":{"domain":[-1.127,1.784],"nice":false,"zero":false},"axis":null},"y2":{"datum":-1.1},"fill":{"field":"g","type":"nominal","scale":{"domain":["General liability","Home contents","Home","Travel","none"],"range":["#F8766D","#7CAE00","#00BFC4","#C77CFF","#ffffff"]},"legend":{"title":"95%−CI for insurance:","values":["General liability","Home contents","Home","Travel"],"orient":"none","legendX":-28,"legendY":282,"direction":"horizontal","titleOrient":"left","symbolType":"square","symbolOpacity":0.25,"symbolStrokeWidth":0,"titlePadding":14}}}},
{"transform":[{"filter":"datum.k=='curve'"}],"mark":{"type":"area","opacity":0.25},"encoding":{"x":{"field":"x","type":"quantitative","scale":{"domain":[0.35,14.65],"nice":false,"zero":false}},"y":{"field":"lo","type":"quantitative","scale":{"domain":[-1.127,1.784],"nice":false,"zero":false},"axis":null},"y2":{"field":"hi"},"fill":{"field":"g","type":"nominal","scale":{"domain":["General liability","Home contents","Home","Travel","none"],"range":["#F8766D","#7CAE00","#00BFC4","#C77CFF","#ffffff"]},"legend":{"title":"95%−CI for insurance:","values":["General liability","Home contents","Home","Travel"],"orient":"none","legendX":-28,"legendY":282,"direction":"horizontal","titleOrient":"left","symbolType":"square","symbolOpacity":0.25,"symbolStrokeWidth":0,"titlePadding":14}}}},
{"data":{"values":[{}]},"mark":{"type":"rule","color":"#7f7f7f","strokeWidth":1},"encoding":{"y":{"datum":0,"type":"quantitative","scale":{"domain":[-1.127,1.784],"nice":false,"zero":false},"axis":null}}},
{"transform":[{"filter":"datum.k=='curve'"}],"mark":{"type":"line","strokeWidth":1.1},"encoding":{"x":{"field":"x","type":"quantitative","scale":{"domain":[0.35,14.65],"nice":false,"zero":false}},"y":{"field":"est","type":"quantitative","scale":{"domain":[-1.127,1.784],"nice":false,"zero":false},"axis":null},"stroke":{"field":"g","type":"nominal","scale":{"domain":["General liability","Home contents","Home","Travel"],"range":["#F8766D","#7CAE00","#00BFC4","#C77CFF"]},"legend":{"title":"Effect for insurance:","orient":"none","legendX":-28,"legendY":266,"direction":"horizontal","titleOrient":"left","symbolType":"stroke","symbolStrokeWidth":2,"symbolOpacity":1,"titlePadding":25}}}}
]},
{"width":76,"height":229,"transform":[{"filter":"datum.p=='c'&&datum.g=='Home'"}],
"layer":[
{"transform":[{"filter":"datum.k=='bar'"}],"mark":{"type":"rect","fillOpacity":0.75,"stroke":"white","strokeWidth":2},"encoding":{"x":{"field":"b0","type":"quantitative","scale":{"domain":[0.7,7.3],"nice":false,"zero":false},"axis":{"values":[1,3,5,7],"format":"d","tickCount":10,"title":null}},"x2":{"field":"b1"},"y":{"field":"top","type":"quantitative","scale":{"domain":[-1.127,1.784],"nice":false,"zero":false},"axis":null},"y2":{"datum":-1.1},"fill":{"field":"g","type":"nominal","scale":{"domain":["General liability","Home contents","Home","Travel","none"],"range":["#F8766D","#7CAE00","#00BFC4","#C77CFF","#ffffff"]},"legend":{"title":"95%−CI for insurance:","values":["General liability","Home contents","Home","Travel"],"orient":"none","legendX":-28,"legendY":282,"direction":"horizontal","titleOrient":"left","symbolType":"square","symbolOpacity":0.25,"symbolStrokeWidth":0,"titlePadding":14}}}},
{"transform":[{"filter":"datum.k=='curve'"}],"mark":{"type":"area","opacity":0.25},"encoding":{"x":{"field":"x","type":"quantitative","scale":{"domain":[0.7,7.3],"nice":false,"zero":false}},"y":{"field":"lo","type":"quantitative","scale":{"domain":[-1.127,1.784],"nice":false,"zero":false},"axis":null},"y2":{"field":"hi"},"fill":{"field":"g","type":"nominal","scale":{"domain":["General liability","Home contents","Home","Travel","none"],"range":["#F8766D","#7CAE00","#00BFC4","#C77CFF","#ffffff"]},"legend":{"title":"95%−CI for insurance:","values":["General liability","Home contents","Home","Travel"],"orient":"none","legendX":-28,"legendY":282,"direction":"horizontal","titleOrient":"left","symbolType":"square","symbolOpacity":0.25,"symbolStrokeWidth":0,"titlePadding":14}}}},
{"data":{"values":[{}]},"mark":{"type":"rule","color":"#7f7f7f","strokeWidth":1},"encoding":{"y":{"datum":0,"type":"quantitative","scale":{"domain":[-1.127,1.784],"nice":false,"zero":false},"axis":null}}},
{"transform":[{"filter":"datum.k=='curve'"}],"mark":{"type":"line","strokeWidth":1.1},"encoding":{"x":{"field":"x","type":"quantitative","scale":{"domain":[0.7,7.3],"nice":false,"zero":false}},"y":{"field":"est","type":"quantitative","scale":{"domain":[-1.127,1.784],"nice":false,"zero":false},"axis":null},"stroke":{"field":"g","type":"nominal","scale":{"domain":["General liability","Home contents","Home","Travel"],"range":["#F8766D","#7CAE00","#00BFC4","#C77CFF"]},"legend":{"title":"Effect for insurance:","orient":"none","legendX":-28,"legendY":266,"direction":"horizontal","titleOrient":"left","symbolType":"stroke","symbolStrokeWidth":2,"symbolOpacity":1,"titlePadding":25}}}}
]},
{"width":76,"height":229,"transform":[{"filter":"datum.p=='c'&&datum.g=='Travel'"}],
"layer":[
{"transform":[{"filter":"datum.k=='bar'"}],"mark":{"type":"rect","fillOpacity":0.75,"stroke":"white","strokeWidth":2},"encoding":{"x":{"field":"b0","type":"quantitative","scale":{"domain":[0.9,3.1],"nice":false,"zero":false},"axis":{"values":[1,2,3],"format":"d","tickCount":10,"title":null}},"x2":{"field":"b1"},"y":{"field":"top","type":"quantitative","scale":{"domain":[-1.127,1.784],"nice":false,"zero":false},"axis":{"orient":"right","values":[1.4351,0.9555,0.5878,0.3365,0.1823,0,-0.2231,-0.5108],"labelExpr":"format((exp(datum.value)-1)*100,'.0f')","tickCount":10,"title":"Discount/Surcharge to the insured (%)","titlePadding":3}},"y2":{"datum":-1.1},"fill":{"field":"g","type":"nominal","scale":{"domain":["General liability","Home contents","Home","Travel","none"],"range":["#F8766D","#7CAE00","#00BFC4","#C77CFF","#ffffff"]},"legend":{"title":"95%−CI for insurance:","values":["General liability","Home contents","Home","Travel"],"orient":"none","legendX":-28,"legendY":282,"direction":"horizontal","titleOrient":"left","symbolType":"square","symbolOpacity":0.25,"symbolStrokeWidth":0,"titlePadding":14}}}},
{"transform":[{"filter":"datum.k=='curve'"}],"mark":{"type":"area","opacity":0.25},"encoding":{"x":{"field":"x","type":"quantitative","scale":{"domain":[0.9,3.1],"nice":false,"zero":false}},"y":{"field":"lo","type":"quantitative","scale":{"domain":[-1.127,1.784],"nice":false,"zero":false}},"y2":{"field":"hi"},"fill":{"field":"g","type":"nominal","scale":{"domain":["General liability","Home contents","Home","Travel","none"],"range":["#F8766D","#7CAE00","#00BFC4","#C77CFF","#ffffff"]},"legend":{"title":"95%−CI for insurance:","values":["General liability","Home contents","Home","Travel"],"orient":"none","legendX":-28,"legendY":282,"direction":"horizontal","titleOrient":"left","symbolType":"square","symbolOpacity":0.25,"symbolStrokeWidth":0,"titlePadding":14}}}},
{"data":{"values":[{}]},"mark":{"type":"rule","color":"#7f7f7f","strokeWidth":1},"encoding":{"y":{"datum":0,"type":"quantitative","scale":{"domain":[-1.127,1.784],"nice":false,"zero":false}}}},
{"transform":[{"filter":"datum.k=='curve'"}],"mark":{"type":"line","strokeWidth":1.1},"encoding":{"x":{"field":"x","type":"quantitative","scale":{"domain":[0.9,3.1],"nice":false,"zero":false}},"y":{"field":"est","type":"quantitative","scale":{"domain":[-1.127,1.784],"nice":false,"zero":false}},"stroke":{"field":"g","type":"nominal","scale":{"domain":["General liability","Home contents","Home","Travel"],"range":["#F8766D","#7CAE00","#00BFC4","#C77CFF"]},"legend":{"title":"Effect for insurance:","orient":"none","legendX":-28,"legendY":266,"direction":"horizontal","titleOrient":"left","symbolType":"stroke","symbolStrokeWidth":2,"symbolOpacity":1,"titlePadding":25}}}}
]}
],"spacing":12,"bounds":"flush",
"title":{"text":"Effects on home insurance","orient":"bottom","anchor":"middle","frame":"bounds","dx":21,"fontSize":15.3,"font":"DejaVu Serif","fontWeight":"normal","offset":16}},
{"hconcat":[
{"width":76,"height":229,"transform":[{"filter":"datum.p=='d'&&datum.g=='General liability'"}],
"title":{"text":"(d)","anchor":"start","frame":"group","dx":-50,"fontSize":20.5,"font":"Liberation Sans","fontWeight":"normal","offset":12},
"layer":[
{"transform":[{"filter":"datum.k=='bar'"}],"mark":{"type":"rect","fillOpacity":0.75,"stroke":"white","strokeWidth":2},"encoding":{"x":{"field":"b0","type":"quantitative","scale":{"domain":[0.8,5.2],"nice":false,"zero":false},"axis":{"values":[1,2,3,4,5],"format":"d","tickCount":10,"title":"Claim score level for multi−product GAM−PG−Multi−PL","titleX":170.5,"titlePadding":5}},"x2":{"field":"b1"},"y":{"field":"top","type":"quantitative","scale":{"domain":[-1.127,1.784],"nice":false,"zero":false},"axis":{"orient":"left","values":[-1,-0.5,0,0.5,1,1.5],"format":"~g","tickCount":10,"title":"Estimated claim score effect on linear predictor","titlePadding":10}},"y2":{"datum":-1.1},"fill":{"field":"g","type":"nominal","scale":{"domain":["General liability","Home contents","Home","Travel","none"],"range":["#F8766D","#7CAE00","#00BFC4","#C77CFF","#ffffff"]},"legend":{"title":"95%−CI for insurance:","values":["General liability","Home contents","Home","Travel"],"orient":"none","legendX":-28,"legendY":282,"direction":"horizontal","titleOrient":"left","symbolType":"square","symbolOpacity":0.25,"symbolStrokeWidth":0,"titlePadding":14}}}},
{"transform":[{"filter":"datum.k=='curve'"}],"mark":{"type":"area","opacity":0.25},"encoding":{"x":{"field":"x","type":"quantitative","scale":{"domain":[0.8,5.2],"nice":false,"zero":false}},"y":{"field":"lo","type":"quantitative","scale":{"domain":[-1.127,1.784],"nice":false,"zero":false}},"y2":{"field":"hi"},"fill":{"field":"g","type":"nominal","scale":{"domain":["General liability","Home contents","Home","Travel","none"],"range":["#F8766D","#7CAE00","#00BFC4","#C77CFF","#ffffff"]},"legend":{"title":"95%−CI for insurance:","values":["General liability","Home contents","Home","Travel"],"orient":"none","legendX":-28,"legendY":282,"direction":"horizontal","titleOrient":"left","symbolType":"square","symbolOpacity":0.25,"symbolStrokeWidth":0,"titlePadding":14}}}},
{"data":{"values":[{}]},"mark":{"type":"rule","color":"#7f7f7f","strokeWidth":1},"encoding":{"y":{"datum":0,"type":"quantitative","scale":{"domain":[-1.127,1.784],"nice":false,"zero":false}}}},
{"transform":[{"filter":"datum.k=='curve'"}],"mark":{"type":"line","strokeWidth":1.1},"encoding":{"x":{"field":"x","type":"quantitative","scale":{"domain":[0.8,5.2],"nice":false,"zero":false}},"y":{"field":"est","type":"quantitative","scale":{"domain":[-1.127,1.784],"nice":false,"zero":false}},"stroke":{"field":"g","type":"nominal","scale":{"domain":["General liability","Home contents","Home","Travel"],"range":["#F8766D","#7CAE00","#00BFC4","#C77CFF"]},"legend":{"title":"Effect for insurance:","orient":"none","legendX":-28,"legendY":266,"direction":"horizontal","titleOrient":"left","symbolType":"stroke","symbolStrokeWidth":2,"symbolOpacity":1,"titlePadding":25}}}}
]},
{"width":76,"height":229,"transform":[{"filter":"datum.p=='d'&&datum.g=='Home contents'"}],
"title":{"text":"Effects on home contents insurance","anchor":"middle","frame":"group","dx":58,"fontSize":15.3,"font":"DejaVu Serif","fontWeight":"normal","offset":12},
"layer":[
{"transform":[{"filter":"datum.k=='bar'"}],"mark":{"type":"rect","fillOpacity":0.75,"stroke":"white","strokeWidth":2},"encoding":{"x":{"field":"b0","type":"quantitative","scale":{"domain":[0.35,14.65],"nice":false,"zero":false},"axis":{"values":[1,5,9,13],"format":"d","tickCount":10,"title":null}},"x2":{"field":"b1"},"y":{"field":"top","type":"quantitative","scale":{"domain":[-1.127,1.784],"nice":false,"zero":false},"axis":null},"y2":{"datum":-1.1},"fill":{"field":"g","type":"nominal","scale":{"domain":["General liability","Home contents","Home","Travel","none"],"range":["#F8766D","#7CAE00","#00BFC4","#C77CFF","#ffffff"]},"legend":{"title":"95%−CI for insurance:","values":["General liability","Home contents","Home","Travel"],"orient":"none","legendX":-28,"legendY":282,"direction":"horizontal","titleOrient":"left","symbolType":"square","symbolOpacity":0.25,"symbolStrokeWidth":0,"titlePadding":14}}}},
{"transform":[{"filter":"datum.k=='curve'"}],"mark":{"type":"area","opacity":0.25},"encoding":{"x":{"field":"x","type":"quantitative","scale":{"domain":[0.35,14.65],"nice":false,"zero":false}},"y":{"field":"lo","type":"quantitative","scale":{"domain":[-1.127,1.784],"nice":false,"zero":false},"axis":null},"y2":{"field":"hi"},"fill":{"field":"g","type":"nominal","scale":{"domain":["General liability","Home contents","Home","Travel","none"],"range":["#F8766D","#7CAE00","#00BFC4","#C77CFF","#ffffff"]},"legend":{"title":"95%−CI for insurance:","values":["General liability","Home contents","Home","Travel"],"orient":"none","legendX":-28,"legendY":282,"direction":"horizontal","titleOrient":"left","symbolType":"square","symbolOpacity":0.25,"symbolStrokeWidth":0,"titlePadding":14}}}},
{"data":{"values":[{}]},"mark":{"type":"rule","color":"#7f7f7f","strokeWidth":1},"encoding":{"y":{"datum":0,"type":"quantitative","scale":{"domain":[-1.127,1.784],"nice":false,"zero":false},"axis":null}}},
{"transform":[{"filter":"datum.k=='curve'"}],"mark":{"type":"line","strokeWidth":1.1},"encoding":{"x":{"field":"x","type":"quantitative","scale":{"domain":[0.35,14.65],"nice":false,"zero":false}},"y":{"field":"est","type":"quantitative","scale":{"domain":[-1.127,1.784],"nice":false,"zero":false},"axis":null},"stroke":{"field":"g","type":"nominal","scale":{"domain":["General liability","Home contents","Home","Travel"],"range":["#F8766D","#7CAE00","#00BFC4","#C77CFF"]},"legend":{"title":"Effect for insurance:","orient":"none","legendX":-28,"legendY":266,"direction":"horizontal","titleOrient":"left","symbolType":"stroke","symbolStrokeWidth":2,"symbolOpacity":1,"titlePadding":25}}}}
]},
{"width":76,"height":229,"transform":[{"filter":"datum.p=='d'&&datum.g=='Home'"}],
"layer":[
{"transform":[{"filter":"datum.k=='bar'"}],"mark":{"type":"rect","fillOpacity":0.75,"stroke":"white","strokeWidth":2},"encoding":{"x":{"field":"b0","type":"quantitative","scale":{"domain":[0.7,7.3],"nice":false,"zero":false},"axis":{"values":[1,3,5,7],"format":"d","tickCount":10,"title":null}},"x2":{"field":"b1"},"y":{"field":"top","type":"quantitative","scale":{"domain":[-1.127,1.784],"nice":false,"zero":false},"axis":null},"y2":{"datum":-1.1},"fill":{"field":"g","type":"nominal","scale":{"domain":["General liability","Home contents","Home","Travel","none"],"range":["#F8766D","#7CAE00","#00BFC4","#C77CFF","#ffffff"]},"legend":{"title":"95%−CI for insurance:","values":["General liability","Home contents","Home","Travel"],"orient":"none","legendX":-28,"legendY":282,"direction":"horizontal","titleOrient":"left","symbolType":"square","symbolOpacity":0.25,"symbolStrokeWidth":0,"titlePadding":14}}}},
{"transform":[{"filter":"datum.k=='curve'"}],"mark":{"type":"area","opacity":0.25},"encoding":{"x":{"field":"x","type":"quantitative","scale":{"domain":[0.7,7.3],"nice":false,"zero":false}},"y":{"field":"lo","type":"quantitative","scale":{"domain":[-1.127,1.784],"nice":false,"zero":false},"axis":null},"y2":{"field":"hi"},"fill":{"field":"g","type":"nominal","scale":{"domain":["General liability","Home contents","Home","Travel","none"],"range":["#F8766D","#7CAE00","#00BFC4","#C77CFF","#ffffff"]},"legend":{"title":"95%−CI for insurance:","values":["General liability","Home contents","Home","Travel"],"orient":"none","legendX":-28,"legendY":282,"direction":"horizontal","titleOrient":"left","symbolType":"square","symbolOpacity":0.25,"symbolStrokeWidth":0,"titlePadding":14}}}},
{"data":{"values":[{}]},"mark":{"type":"rule","color":"#7f7f7f","strokeWidth":1},"encoding":{"y":{"datum":0,"type":"quantitative","scale":{"domain":[-1.127,1.784],"nice":false,"zero":false},"axis":null}}},
{"transform":[{"filter":"datum.k=='curve'"}],"mark":{"type":"line","strokeWidth":1.1},"encoding":{"x":{"field":"x","type":"quantitative","scale":{"domain":[0.7,7.3],"nice":false,"zero":false}},"y":{"field":"est","type":"quantitative","scale":{"domain":[-1.127,1.784],"nice":false,"zero":false},"axis":null},"stroke":{"field":"g","type":"nominal","scale":{"domain":["General liability","Home contents","Home","Travel"],"range":["#F8766D","#7CAE00","#00BFC4","#C77CFF"]},"legend":{"title":"Effect for insurance:","orient":"none","legendX":-28,"legendY":266,"direction":"horizontal","titleOrient":"left","symbolType":"stroke","symbolStrokeWidth":2,"symbolOpacity":1,"titlePadding":25}}}}
]},
{"width":76,"height":229,"transform":[{"filter":"datum.p=='d'&&datum.g=='Travel'"}],
"layer":[
{"transform":[{"filter":"datum.k=='bar'"}],"mark":{"type":"rect","fillOpacity":0.75,"stroke":"white","strokeWidth":2},"encoding":{"x":{"field":"b0","type":"quantitative","scale":{"domain":[0.9,3.1],"nice":false,"zero":false},"axis":{"values":[1,2,3],"format":"d","tickCount":10,"title":null}},"x2":{"field":"b1"},"y":{"field":"top","type":"quantitative","scale":{"domain":[-1.127,1.784],"nice":false,"zero":false},"axis":{"orient":"right","values":[1.4351,0.9555,0.5878,0.3365,0.1823,0,-0.2231,-0.5108],"labelExpr":"format((exp(datum.value)-1)*100,'.0f')","tickCount":10,"title":"Discount/Surcharge to the insured (%)","titlePadding":3}},"y2":{"datum":-1.1},"fill":{"field":"g","type":"nominal","scale":{"domain":["General liability","Home contents","Home","Travel","none"],"range":["#F8766D","#7CAE00","#00BFC4","#C77CFF","#ffffff"]},"legend":{"title":"95%−CI for insurance:","values":["General liability","Home contents","Home","Travel"],"orient":"none","legendX":-28,"legendY":282,"direction":"horizontal","titleOrient":"left","symbolType":"square","symbolOpacity":0.25,"symbolStrokeWidth":0,"titlePadding":14}}}},
{"transform":[{"filter":"datum.k=='curve'"}],"mark":{"type":"area","opacity":0.25},"encoding":{"x":{"field":"x","type":"quantitative","scale":{"domain":[0.9,3.1],"nice":false,"zero":false}},"y":{"field":"lo","type":"quantitative","scale":{"domain":[-1.127,1.784],"nice":false,"zero":false}},"y2":{"field":"hi"},"fill":{"field":"g","type":"nominal","scale":{"domain":["General liability","Home contents","Home","Travel","none"],"range":["#F8766D","#7CAE00","#00BFC4","#C77CFF","#ffffff"]},"legend":{"title":"95%−CI for insurance:","values":["General liability","Home contents","Home","Travel"],"orient":"none","legendX":-28,"legendY":282,"direction":"horizontal","titleOrient":"left","symbolType":"square","symbolOpacity":0.25,"symbolStrokeWidth":0,"titlePadding":14}}}},
{"data":{"values":[{}]},"mark":{"type":"rule","color":"#7f7f7f","strokeWidth":1},"encoding":{"y":{"datum":0,"type":"quantitative","scale":{"domain":[-1.127,1.784],"nice":false,"zero":false}}}},
{"transform":[{"filter":"datum.k=='curve'"}],"mark":{"type":"line","strokeWidth":1.1},"encoding":{"x":{"field":"x","type":"quantitative","scale":{"domain":[0.9,3.1],"nice":false,"zero":false}},"y":{"field":"est","type":"quantitative","scale":{"domain":[-1.127,1.784],"nice":false,"zero":false}},"stroke":{"field":"g","type":"nominal","scale":{"domain":["General liability","Home contents","Home","Travel"],"range":["#F8766D","#7CAE00","#00BFC4","#C77CFF"]},"legend":{"title":"Effect for insurance:","orient":"none","legendX":-28,"legendY":266,"direction":"horizontal","titleOrient":"left","symbolType":"stroke","symbolStrokeWidth":2,"symbolOpacity":1,"titlePadding":25}}}}
]}
],"spacing":12,"bounds":"flush",
"title":{"text":"Effects on travel insurance","orient":"bottom","anchor":"middle","frame":"bounds","dx":21,"fontSize":15.3,"font":"DejaVu Serif","fontWeight":"normal","offset":16}}
],
"columns":2,
"spacing":{"row":13.7,"column":11.3},
"resolve":{"scale":{"fill":"independent","stroke":"independent"},"legend":{"fill":"independent","stroke":"independent"}},
"config":{
"view":{"stroke":null},
"axis":{"grid":false,"domainColor":"#333333","tickColor":"#333333","tickSize":3.5,"labelColor":"#4d4d4d","labelFont":"Liberation Sans","labelFontSize":10,"labelPadding":3,"labelFlush":false,"labelOverlap":false,"titleFont":"Liberation Sans","titleFontSize":9.8,"titleFontStyle":"italic","titleFontWeight":"normal","titleColor":"#1a1a1a"},
"legend":{"titleFont":"Liberation Sans","titleFontStyle":"italic","titleFontWeight":"normal","titleFontSize":11,"titleColor":"#000000","labelFont":"Liberation Sans","labelFontSize":10.24,"labelColor":"#1a1a1a","symbolSize":81,"columnPadding":2,"labelOffset":6,"titleLimit":300,"labelLimit":200},
"title":{"color":"#000000"}
}
}
